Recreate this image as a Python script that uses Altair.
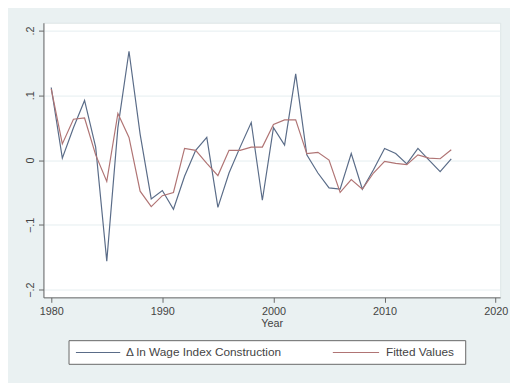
import altair as alt
import pandas as pd

years = list(range(1980, 2017))
actual = [0.112, 0.003, 0.050, 0.092, 0.020, -0.156, 0.050, 0.168, 0.040, -0.060,
          -0.047, -0.076, -0.025, 0.015, 0.035, -0.073, -0.020, 0.020, 0.058, -0.062,
          0.050, 0.023, 0.133, 0.008, -0.020, -0.043, -0.045, 0.010, -0.045, -0.015,
          0.018, 0.010, -0.006, 0.018, 0.000, -0.018, 0.002]
fitted = [0.110, 0.025, 0.063, 0.065, 0.008, -0.033, 0.072, 0.035, -0.048, -0.072,
          -0.055, -0.050, 0.018, 0.015, -0.005, -0.024, 0.015, 0.015, 0.020, 0.020,
          0.055, 0.062, 0.062, 0.010, 0.012, 0.000, -0.050, -0.030, -0.045, -0.020,
          -0.002, -0.005, -0.007, 0.008, 0.003, 0.002, 0.016]
series_names = ["\u0394 ln Wage Index  Construction", "Fitted Values"]
series_colors = ["#5A6C88", "#B07474"]
x_ticks = [1980, 1990, 2000, 2010, 2020]
y_ticks = [-0.2, -0.1, 0.0, 0.1, 0.2]

rows = []
for y, a, f in zip(years, actual, fitted):
    rows.append({"Year": y, "value": a, "series": series_names[0]})
    rows.append({"Year": y, "value": f, "series": series_names[1]})
df = pd.DataFrame(rows)

font = "Liberation Sans"

lines = alt.Chart(df).mark_line(strokeWidth=1.2).encode(
    x=alt.X("Year:Q",
            scale=alt.Scale(domain=[1979.3, 2020.4], nice=False, zero=False),
            axis=alt.Axis(values=x_ticks, format="d", title="Year", grid=False,
                          domain=True, domainColor="#666666", tickColor="#666666",
                          tickSize=5, labelFontSize=11, labelColor="#444444",
                          titleFontSize=11, titleFontWeight="normal", titleColor="#444444",
                          titlePadding=2, labelPadding=3, labelFont=font, titleFont=font)),
    y=alt.Y("value:Q",
            scale=alt.Scale(domain=[-0.212, 0.212], nice=False, zero=False),
            axis=alt.Axis(values=y_ticks,
                          labelExpr="datum.value == 0 ? '0' : replace(format(datum.value, '.1f'), '0.', '.')",
                          title=None, grid=True, gridColor="#E6EEF0", gridWidth=1,
                          domain=True, domainColor="#666666", tickColor="#666666",
                          tickSize=5, labelAngle=270, labelAlign="center", labelBaseline="bottom",
                          labelFontSize=11, labelColor="#444444", labelPadding=3, labelFont=font)),
    color=alt.Color("series:N",
                    scale=alt.Scale(domain=series_names, range=series_colors),
                    legend=None),
)

# manual Stata-style legend box below the plot
one = pd.DataFrame({"k": [0]})
legend_layers = [
    alt.Chart(one).mark_rect(fill="white", stroke="#666666", strokeWidth=1).encode(
        x=alt.value(26), x2=alt.value(429), y=alt.value(323), y2=alt.value(347))
]
sym_x = [(33, 78), (294, 341)]
txt_x = [84, 348]
for name, col, (sx1, sx2), tx in zip(series_names, series_colors, sym_x, txt_x):
    legend_layers.append(
        alt.Chart(one).mark_rule(color=col, strokeWidth=1.2).encode(
            x=alt.value(sx1), x2=alt.value(sx2), y=alt.value(335)))
    legend_layers.append(
        alt.Chart(one).mark_text(text=name, align="left", baseline="middle",
                                 font=font, fontSize=12, color="#444444").encode(
            x=alt.value(tx), y=alt.value(335)))

chart = alt.layer(lines, *legend_layers).properties(
    width=464, height=279,
    background="#EAF1F2",
    autosize=alt.AutoSizeParams(type="none"),
    padding={"left": 36, "top": 12, "right": 10, "bottom": 84},
).configure_view(fill="white", stroke="#DDE5E7")

chart.save("out.html", embed_options={"renderer": "svg", "actions": False})
